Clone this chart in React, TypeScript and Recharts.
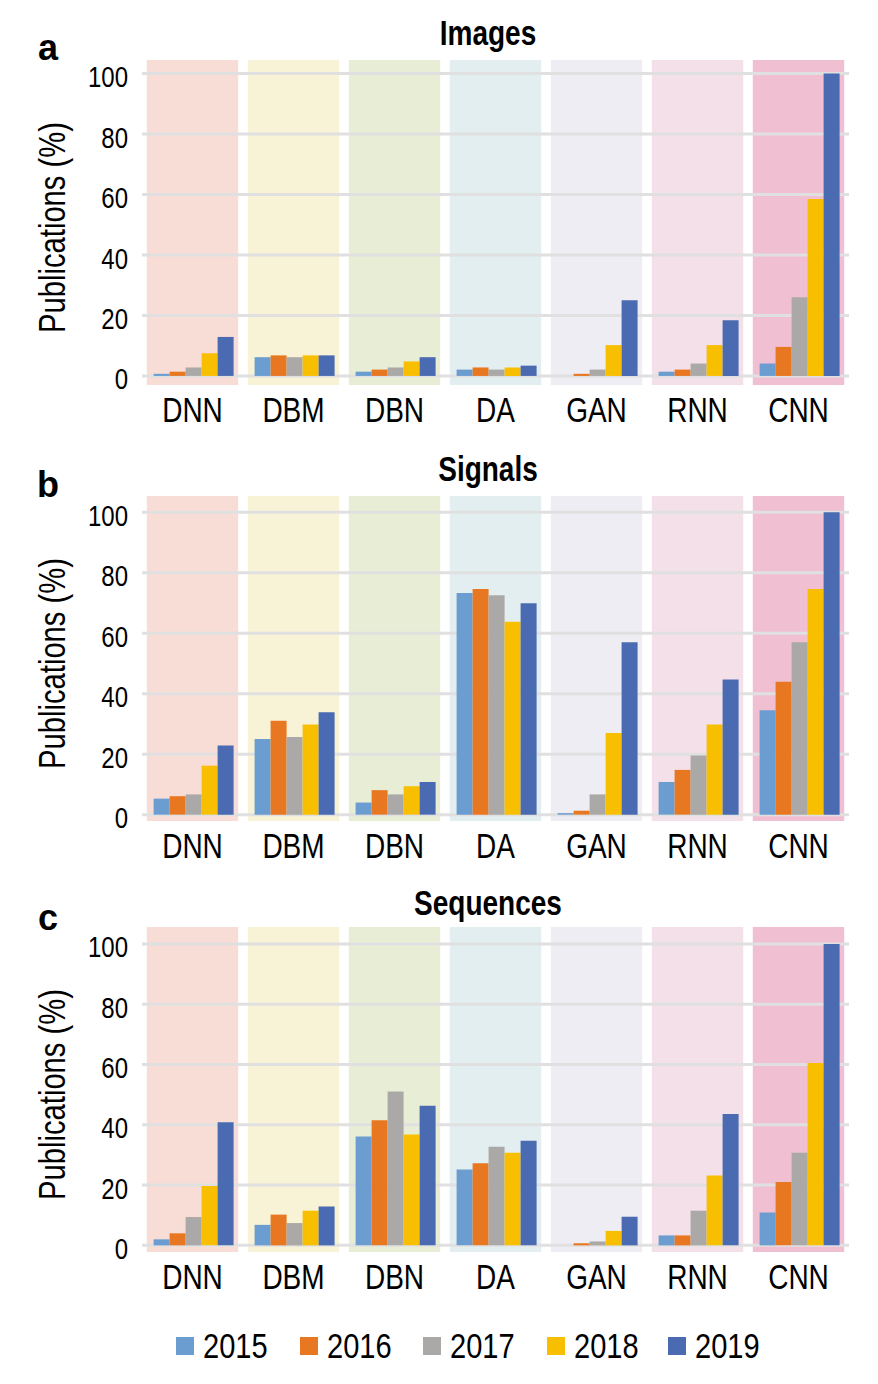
import React from 'react';
import { BarChart, Bar, XAxis, YAxis, CartesianGrid, ReferenceArea } from 'recharts';

const categories = ['DNN', 'DBM', 'DBN', 'DA', 'GAN', 'RNN', 'CNN'];
const years = ['2015', '2016', '2017', '2018', '2019'];
const yearColors = ['#6B9DD1', '#E87722', '#ABA9A7', '#F8BF00', '#4A6BB1'];
const bandColors = ['#F8DDD6', '#F8F3D7', '#E8EED5', '#E3EEF0', '#EFEDF4', '#F4E0E8', '#F1BFD2'];
const yTicks = [0, 20, 40, 60, 80, 100];
const panelTitles = ['Images', 'Signals', 'Sequences'];
const panelLetters = ['a', 'b', 'c'];
const yAxisTitle = 'Publications (%)';

// Images
const images2015 = [0.7, 6.2, 1.4, 2.1, 0, 1.4, 4.1];
const images2016 = [1.4, 6.8, 2.1, 2.8, 0.7, 2.1, 9.6];
const images2017 = [2.8, 6.2, 2.8, 2.1, 2.1, 4.1, 26];
const images2018 = [7.5, 6.8, 4.8, 2.8, 10.2, 10.2, 58.5];
const images2019 = [12.9, 6.8, 6.2, 3.4, 25, 18.4, 100];

// Signals
const signals2015 = [5.3, 25.0, 4.0, 73.3, 0.5, 10.8, 34.5];
const signals2016 = [6.1, 31.1, 8.1, 74.6, 1.3, 14.8, 44];
const signals2017 = [6.7, 25.7, 6.7, 72.6, 6.7, 19.6, 57];
const signals2018 = [16.2, 29.8, 9.4, 63.8, 27, 29.8, 74.6];
const signals2019 = [22.9, 33.9, 10.8, 69.9, 57, 44.7, 100];

// Sequences
const sequences2015 = [2.0, 6.8, 36.1, 25.2, 0, 3.3, 10.9];
const sequences2016 = [4.0, 10.2, 41.5, 27.2, 0.7, 3.3, 21];
const sequences2017 = [9.4, 7.4, 51, 32.7, 1.3, 11.5, 30.7];
const sequences2018 = [19.7, 11.5, 36.8, 30.7, 4.8, 23.2, 60.5];
const sequences2019 = [40.8, 12.9, 46.3, 34.7, 9.5, 43.6, 100];

const FONT = "'Liberation Sans', Arial, sans-serif";
const NARROW = 0.8;

const buildRows = (series: number[][]) =>
  categories.map((c, i) => {
    const row: any = { cat: c };
    years.forEach((y, j) => {
      row['y' + y] = series[j][i];
    });
    return row;
  });

const panels = [
  { rows: buildRows([images2015, images2016, images2017, images2018, images2019]), domain: [-3.0, 104.5], top: 0, titleDy: 37, letterDy: 52 },
  { rows: buildRows([signals2015, signals2016, signals2017, signals2018, signals2019]), domain: [-2.1, 105.4], top: 436, titleDy: 37, letterDy: 53 },
  { rows: buildRows([sequences2015, sequences2016, sequences2017, sequences2018, sequences2019]), domain: [-2.2, 105.6], top: 867, titleDy: 40, letterDy: 55 },
];

const CHART_W = 862;
const CHART_H = 430;
const M_TOP = 52;
const X_H = 53;
const Y_W = 134;
const M_RIGHT = 21;
const MARGIN = { top: M_TOP, right: M_RIGHT, bottom: 0, left: 0 };

// Condensed text: horizontally scaled Liberation Sans
const NText = ({ x, y, anchor = 'start', size, weight = 'normal', rotate = 0, scale = NARROW, children }: any) => (
  <text
    x={0}
    y={0}
    transform={`translate(${x}, ${y}) rotate(${rotate}) scale(${scale}, 1)`}
    textAnchor={anchor}
    fontFamily={FONT}
    fontSize={size}
    fontWeight={weight}
    fill="#000"
  >
    {children}
  </text>
);

const BandShape = (props: any) => {
  const { x, y, width, height, fill } = props;
  const inset = 4.8;
  return <rect x={x + inset} y={y} width={Math.max(0, width - 2 * inset)} height={height} fill={fill} />;
};

const XTick = (props: any) => {
  const { x, y, payload } = props;
  return (
    <NText x={x} y={y + 37} anchor="middle" size={35}>
      {payload.value}
    </NText>
  );
};

const YTick = (props: any) => {
  const { x, y, payload } = props;
  return (
    <NText x={x - 14} y={y + 13.5} anchor="end" size={30}>
      {payload.value}
    </NText>
  );
};

function Panel({ rows, domain, top }: any) {
  const commonX = { dataKey: 'cat', axisLine: false, tickLine: false, tickSize: 0, tickMargin: 0, height: X_H, interval: 0 } as any;
  const commonY = {
    type: 'number',
    domain,
    ticks: yTicks,
    allowDataOverflow: true,
    axisLine: false,
    tickLine: false,
    tickSize: 0,
    tickMargin: 0,
    width: Y_W,
    interval: 0,
  } as any;
  return (
    <div style={{ position: 'absolute', left: 0, top, width: CHART_W, height: CHART_H }}>
      {/* background layer: category bands */}
      <div style={{ position: 'absolute', left: 0, top: 0 }}>
        <BarChart width={CHART_W} height={CHART_H} data={rows} margin={MARGIN} barCategoryGap={11.6} barGap={0}>
          {categories.map((c, i) => (
            <ReferenceArea
              key={c}
              x1={c}
              x2={c}
              fill={bandColors[i]}
              fillOpacity={1}
              stroke="none"
              ifOverflow="visible"
              shape={BandShape}
            />
          ))}
          <XAxis {...commonX} tick={false} />
          <YAxis {...commonY} tick={false} />
        </BarChart>
      </div>
      {/* foreground layer: grid, axes, bars */}
      <div style={{ position: 'absolute', left: 0, top: 0 }}>
        <BarChart width={CHART_W} height={CHART_H} data={rows} margin={MARGIN} barCategoryGap={11.6} barGap={0}>
          <CartesianGrid horizontal vertical={false} syncWithTicks stroke="#E0E0E0" strokeWidth={3} />
          <XAxis {...commonX} tick={<XTick />} />
          <YAxis {...commonY} tick={<YTick />} />
          {years.map((y, i) => (
            <Bar key={y} dataKey={'y' + y} fill={yearColors[i]} isAnimationActive={false} />
          ))}
        </BarChart>
      </div>
    </div>
  );
}

export default function App() {
  const plotCenterY = (top: number) => top + M_TOP + (CHART_H - M_TOP - X_H) / 2;
  const legendX = [168, 292, 415, 539, 660];
  return (
    <div style={{ position: 'relative', width: CHART_W, height: 1376, background: '#fff' }}>
      {panels.map((p, i) => (
        <Panel key={i} rows={p.rows} domain={p.domain} top={p.top} />
      ))}
      <svg
        width={CHART_W}
        height={1376}
        style={{ position: 'absolute', left: 0, top: 0, pointerEvents: 'none' }}
      >
        {panels.map((p, i) => (
          <g key={i}>
            <NText x={480} y={p.top + p.titleDy} anchor="middle" size={35} weight="bold">
              {panelTitles[i]}
            </NText>
            <NText x={40} y={p.top + p.letterDy} anchor="middle" size={36} weight="bold" scale={1}>
              {panelLetters[i]}
            </NText>
            <NText x={57} y={plotCenterY(p.top) + 5} anchor="middle" size={36.5} rotate={-90}>
              {yAxisTitle}
            </NText>
          </g>
        ))}
        {years.map((y, i) => (
          <g key={y}>
            <rect x={legendX[i]} y={1329} width={18} height={18} fill={yearColors[i]} />
            <NText x={legendX[i] + 27} y={1350} size={35} scale={0.83}>
              {y}
            </NText>
          </g>
        ))}
      </svg>
    </div>
  );
}
